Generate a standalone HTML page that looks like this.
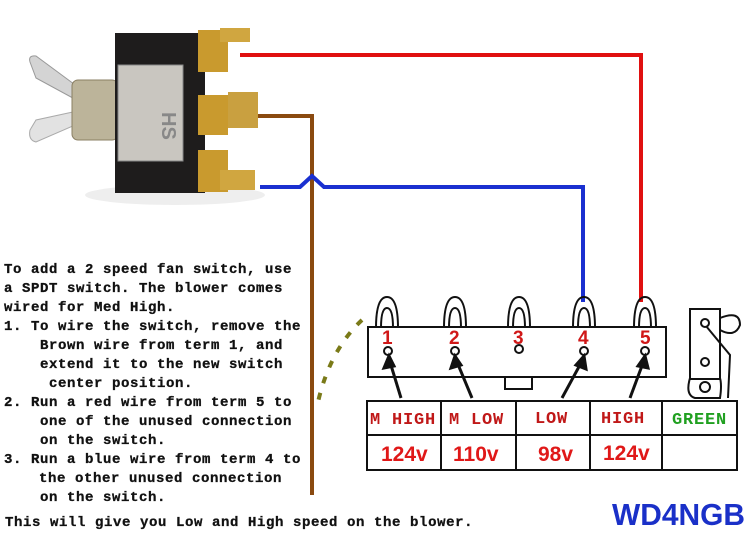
<!DOCTYPE html>
<html><head><meta charset="utf-8"><style>
html,body{margin:0;padding:0;background:#fff;}
svg{display:block;}
.t{font-family:"Liberation Mono",monospace;font-weight:bold;font-size:14px;letter-spacing:0.6px;fill:#111;stroke:#111;stroke-width:0.3px;}
.n{font-family:"Liberation Sans",sans-serif;font-weight:bold;font-size:19px;fill:#d01818;}
.h{font-family:"Liberation Mono",monospace;font-weight:bold;font-size:17px;letter-spacing:0.8px;fill:#c01818;}
.v{font-family:"Liberation Sans",sans-serif;font-weight:bold;font-size:21px;fill:#e01818;}
</style></head><body>
<svg width="756" height="535" viewBox="0 0 756 535" xmlns="http://www.w3.org/2000/svg">
<rect width="756" height="535" fill="#fff"/>
<!-- switch photo approximation -->
<ellipse cx="175" cy="195" rx="90" ry="10" fill="#eee"/>
<path d="M30 62 Q28 55 36 56 L82 90 L82 103 L36 78 Z" fill="#d4d4d4" stroke="#999"/>
<path d="M30 130 Q28 140 36 142 L82 122 L82 110 L36 120 Z" fill="#e2e2e2" stroke="#aaa"/>
<rect x="72" y="80" width="46" height="60" rx="6" fill="#bcb49a" stroke="#8a7f63"/>
<rect x="115" y="33" width="90" height="160" fill="#1e1c1c"/>
<rect x="118" y="65" width="65" height="96" fill="#c9c6c0" stroke="#888"/>
<text x="150" y="100" font-family="Liberation Sans" font-size="20" font-weight="bold" fill="#888" transform="rotate(90 150 112)">HS</text>
<rect x="198" y="30" width="30" height="42" fill="#c99a2e"/>
<rect x="198" y="95" width="30" height="40" fill="#c99a2e"/>
<rect x="228" y="92" width="30" height="36" fill="#c9a040"/>
<rect x="198" y="150" width="30" height="42" fill="#c99a2e"/>
<rect x="220" y="170" width="35" height="20" fill="#d0a640"/>
<rect x="220" y="28" width="30" height="14" fill="#d0a640"/>
<!-- wires -->
<polyline points="240,55 641,55 641,302" fill="none" stroke="#e01010" stroke-width="4"/>
<polyline points="258,116 312,116 312,495" fill="none" stroke="#8a4a10" stroke-width="4"/>
<polyline points="260,187 300,187 312,176 324,187 583,187 583,302" fill="none" stroke="#1a30d0" stroke-width="4"/>
<path d="M362 320 Q330 350 318 402" fill="none" stroke="#7a7a18" stroke-width="4" stroke-dasharray="7,10"/>
<!-- terminal block -->
<g fill="none" stroke="#111" stroke-width="2">
<path d="M376 328 Q376 297 387 297 Q398 297 398 328"/><path d="M381 328 Q381 308 387 308 Q393 308 393 328"/>
<path d="M444 328 Q444 297 455 297 Q466 297 466 328"/><path d="M449 328 Q449 308 455 308 Q461 308 461 328"/>
<path d="M508 328 Q508 297 519 297 Q530 297 530 328"/><path d="M513 328 Q513 308 519 308 Q525 308 525 328"/>
<path d="M573 328 Q573 297 584 297 Q595 297 595 328"/><path d="M578 328 Q578 308 584 308 Q590 308 590 328"/>
<path d="M634 328 Q634 297 645 297 Q656 297 656 328"/><path d="M639 328 Q639 308 645 308 Q651 308 651 328"/>
<rect x="368" y="327" width="298" height="50"/>
<rect x="505" y="377" width="27" height="12"/>
<circle cx="388" cy="351" r="4"/><circle cx="455" cy="351" r="4"/><circle cx="519" cy="349" r="4"/><circle cx="584" cy="351" r="4"/><circle cx="645" cy="351" r="4"/>
<rect x="690" y="309" width="30" height="70"/>
<circle cx="705" cy="323" r="4"/><circle cx="705" cy="362" r="4"/><circle cx="705" cy="387" r="5"/>
<path d="M690 378 Q685 395 695 398 L720 398 Q722 385 720 378"/>
<path d="M720 318 Q740 310 740 325 Q735 338 720 330"/>
<path d="M706 326 L730 355 L728 398"/>
</g>
<g stroke="#111" stroke-width="3" fill="#111">
<line x1="401" y1="398" x2="390" y2="362"/><polygon points="389,356 384,368 394,366"/>
<line x1="472" y1="398" x2="457" y2="362"/><polygon points="455,356 451,368 461,365"/>
<line x1="562" y1="398" x2="581" y2="363"/><polygon points="584,356 576,365 586,369"/>
<line x1="630" y1="398" x2="643" y2="363"/><polygon points="645,356 638,366 648,368"/>
</g>
<text class="n" x="382" y="344">1</text><text class="n" x="449" y="344">2</text><text class="n" x="513" y="344">3</text><text class="n" x="578" y="344">4</text><text class="n" x="640" y="344">5</text>
<!-- table -->
<g fill="none" stroke="#111" stroke-width="2">
<rect x="367" y="401" width="370" height="69"/>
<line x1="367" y1="435" x2="737" y2="435"/>
<line x1="441" y1="401" x2="441" y2="470"/><line x1="516" y1="401" x2="516" y2="470"/>
<line x1="590" y1="401" x2="590" y2="470"/><line x1="662" y1="401" x2="662" y2="470"/>
</g>
<text class="h" x="370" y="424">M HIGH</text><text class="h" x="449" y="424">M LOW</text>
<text class="h" x="535" y="423">LOW</text><text class="h" x="601" y="423">HIGH</text>
<text class="h" x="672" y="424" style="fill:#20a020">GREEN</text>
<text class="v" x="381" y="461">124v</text><text class="v" x="453" y="461">110v</text>
<text class="v" x="538" y="461">98v</text><text class="v" x="603" y="460">124v</text>
<!-- instructions -->
<text class="t" x="4" y="273">To add a 2 speed fan switch, use</text>
<text class="t" x="4" y="292">a SPDT switch.  The blower comes</text>
<text class="t" x="4" y="311">wired for Med High.</text>
<text class="t" x="4" y="330">1. To wire the switch, remove the</text>
<text class="t" x="40" y="349">Brown wire from term 1, and</text>
<text class="t" x="40" y="368">extend it to the new switch</text>
<text class="t" x="49" y="387">center position.</text>
<text class="t" x="4" y="406">2. Run a red wire from term 5 to</text>
<text class="t" x="40" y="425">one of the unused connection</text>
<text class="t" x="40" y="444">on the switch.</text>
<text class="t" x="4" y="463">3. Run a blue wire from term 4 to</text>
<text class="t" x="39" y="482">the other unused connection</text>
<text class="t" x="40" y="501">on the switch.</text>
<text class="t" x="5" y="526">This will give you Low and High speed on the blower.</text>
<text x="612" y="525" font-family="Liberation Sans, sans-serif" font-weight="bold" font-size="31" fill="#1a30c8" textLength="133" lengthAdjust="spacingAndGlyphs">WD4NGB</text>
</svg>
</body></html>
